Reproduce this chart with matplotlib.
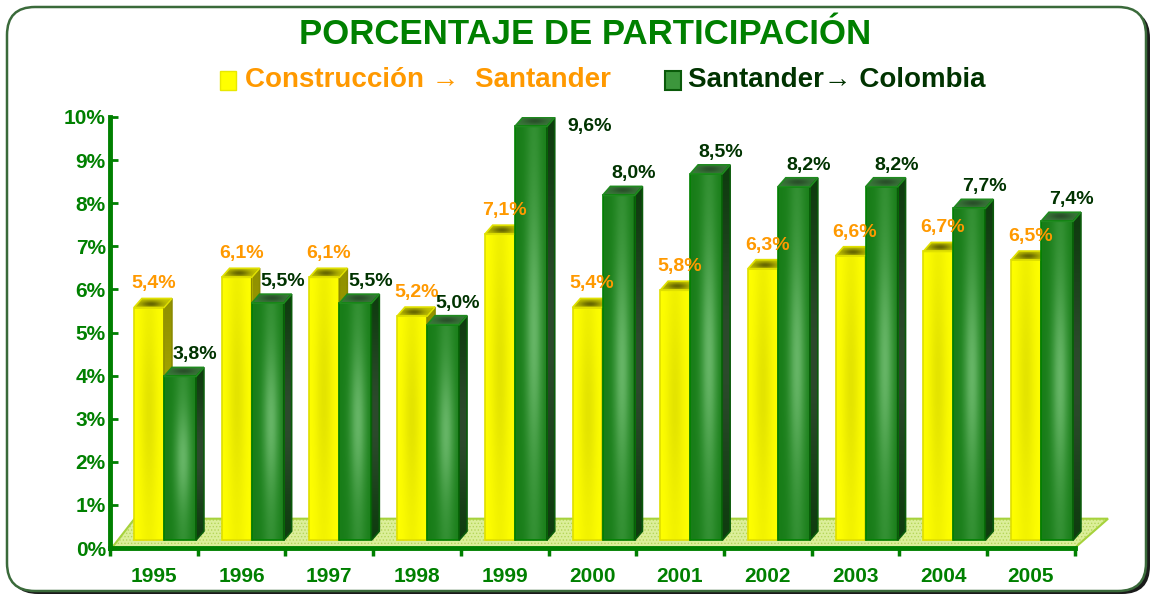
import matplotlib.pyplot as plt
import numpy as np
from matplotlib.patches import Polygon, FancyBboxPatch, Rectangle
from matplotlib.colors import to_rgb

# data
years = ['1995', '1996', '1997', '1998', '1999', '2000',
         '2001', '2002', '2003', '2004', '2005']
construccion = [5.4, 6.1, 6.1, 5.2, 7.1, 5.4, 5.8, 6.3, 6.6, 6.7, 6.5]
santander = [3.8, 5.5, 5.5, 5.0, 9.6, 8.0, 8.5, 8.2, 8.2, 7.7, 7.4]
yticks = list(range(11))

FONT = ['Liberation Sans', 'DejaVu Sans']
GREEN = '#008000'

# 3d look
base = 0.18
dx, dy = 0.09, 0.21


def mix(c1, c2, f):
    a = np.array(to_rgb(c1))
    b = np.array(to_rgb(c2))
    return a + (b - a) * f[..., None]


def face(ax, verts, c1, c2, ffun, z, edge):
    verts = np.array(verts)
    x0, y0 = verts.min(axis=0)
    x1, y1 = verts.max(axis=0)
    U, V = np.meshgrid(np.linspace(0, 1, 40), np.linspace(0, 1, 80))
    img = mix(c1, c2, ffun(U, V))
    poly = Polygon(verts, closed=True, facecolor='none', edgecolor=edge,
                   lw=1.2, zorder=z + 0.1)
    ax.add_patch(poly)
    im = ax.imshow(img, extent=(x0, x1, y0, y1), origin='lower',
                   aspect='auto', interpolation='bilinear', zorder=z)
    im.set_clip_path(poly)


def bump(t, c, w):
    return np.exp(-((t - c) / w) ** 2)


def bar3d(ax, x, w, h, kind, z):
    y0 = base
    y1 = base + h
    front = [(x, y0), (x + w, y0), (x + w, y1), (x, y1)]
    side = [(x + w, y0), (x + w + dx, y0 + dy), (x + w + dx, y1 + dy), (x + w, y1)]
    top = [(x, y1), (x + w, y1), (x + w + dx, y1 + dy), (x + dx, y1 + dy)]
    if kind == 'y':
        face(ax, front, '#ffff00', '#e4e400',
             lambda U, V: bump(U, 0.5, 0.3) * (0.4 + 0.6 * bump(V, 0.55, 0.35)), z, '#dede00')
        face(ax, side, '#8a8a00', '#a8a800', lambda U, V: bump(V, 0.5, 0.4), z, '#8a8a00')
        face(ax, top, '#c8c800', '#666600',
             lambda U, V: bump(U, 0.45, 0.3) * bump(V, 0.4, 0.35), z, '#e0e000')
    else:
        face(ax, front, '#187d18', '#66b566',
             lambda U, V: bump(U, 0.58, 0.26) * (0.3 + 0.7 * bump(V, 0.5, 0.3)), z, '#008000')
        face(ax, side, '#0b3a0b', '#2d4a2d', lambda U, V: bump(V, 0.5, 0.35), z, '#0a5a0a')
        face(ax, top, '#3a7a3a', '#2a4f2a',
             lambda U, V: bump(U, 0.5, 0.3) * bump(V, 0.5, 0.35), z, '#1f8a1f')


fig = plt.figure(figsize=(11.52, 5.96), dpi=100)

# background frame (pixel coords)
bg = fig.add_axes([0, 0, 1, 1], zorder=0)
bg.set_xlim(0, 1152)
bg.set_ylim(0, 596)
bg.axis('off')
bg.add_patch(FancyBboxPatch((10, 2), 1140, 584, boxstyle='round,pad=0,rounding_size=28',
                            facecolor='#1a1a1a', edgecolor='none'))
bg.add_patch(FancyBboxPatch((7, 5), 1139, 584, boxstyle='round,pad=0,rounding_size=28',
                            facecolor='white', edgecolor='#3a6a3a', lw=1.8))

# title and legend
bg.text(585, 596 - 34, 'PORCENTAJE DE PARTICIPACIÓN', ha='center', va='center',
        fontsize=25, fontweight='bold', color=GREEN, family=FONT)
bg.add_patch(Rectangle((220, 596 - 90), 16, 19, facecolor='#ffff00', edgecolor='#e8e800'))
bg.text(245, 596 - 80, 'Construcción →  Santander', ha='left', va='center',
        fontsize=20, fontweight='bold', color='#ff9900', family=FONT)
bg.add_patch(Rectangle((665, 596 - 90), 16, 19, facecolor='#3c963c', edgecolor='#0a5a0a', lw=1.5))
bg.text(688, 596 - 80, 'Santander→ Colombia', ha='left', va='center',
        fontsize=20, fontweight='bold', color='#003300', family=FONT)

# main axes
ax = fig.add_axes([110 / 1152, 1 - 548 / 596, 11.5 * 87.7 / 1152, (548 - 117) / 596], zorder=1)
ax.patch.set_alpha(0)
ax.set_xlim(0, 11.5)
ax.set_ylim(0, 10)

# floor
plt.rcParams['hatch.linewidth'] = 0.6
floor = [(0.02, 0), (11.0, 0), (11.38, 0.68), (0.28, 0.68)]
ax.add_patch(Polygon(floor, closed=True, facecolor='#dcef9a', edgecolor='#b5d65a',
                     hatch='.....', lw=0, zorder=1))
ax.add_patch(Polygon(floor, closed=True, facecolor='none', edgecolor='#a6d23c',
                     lw=1.5, zorder=1.1))

yw, gw = 0.342, 0.365
for i in range(len(years)):
    xy = i + 0.274
    xg = xy + yw
    bar3d(ax, xy, yw, construccion[i], 'y', 2 + i * 0.5)
    bar3d(ax, xg, gw, santander[i], 'g', 2.2 + i * 0.5)

    lab = f'{construccion[i]:.1f}'.replace('.', ',') + '%'
    ax.text(xy + yw / 2 + 0.05, base + construccion[i] + 0.55, lab, ha='center', va='center',
            fontsize=14, fontweight='bold', color='#ff9900', family=FONT, zorder=20)
    lab = f'{santander[i]:.1f}'.replace('.', ',') + '%'
    lx = xg + gw / 2 + 0.17
    ly = base + santander[i] + 0.5
    if ly > 9.9:
        lx = xg + gw / 2 + 0.67
        ly = base + santander[i]
    ax.text(lx, ly, lab, ha='center', va='center',
            fontsize=14, fontweight='bold', color='#003300', family=FONT, zorder=20)

# axes styling
for s in ['top', 'right']:
    ax.spines[s].set_visible(False)
ax.spines['left'].set_color(GREEN)
ax.spines['left'].set_linewidth(3.5)
ax.spines['left'].set_bounds(0, 10)
ax.spines['bottom'].set_color(GREEN)
ax.spines['bottom'].set_linewidth(3.5)
ax.spines['bottom'].set_bounds(0, 11)

ax.set_yticks(yticks)
ax.set_yticklabels([f'{t}%' for t in yticks], fontsize=15, fontweight='bold',
                   color=GREEN, family=FONT)
ax.tick_params(axis='y', direction='in', length=6, width=2, color=GREEN, pad=3)

ax.set_xticks(range(len(years) + 1))
ax.set_xticklabels([])
ax.tick_params(axis='x', which='major', direction='out', length=6, width=2.5, color=GREEN)
ax.set_xticks(np.arange(len(years)) + 0.5, minor=True)
ax.set_xticklabels(years, minor=True, fontsize=15, fontweight='bold', color=GREEN, family=FONT)
ax.tick_params(axis='x', which='minor', length=0, pad=14)

fig.savefig('out.png', dpi=100)
